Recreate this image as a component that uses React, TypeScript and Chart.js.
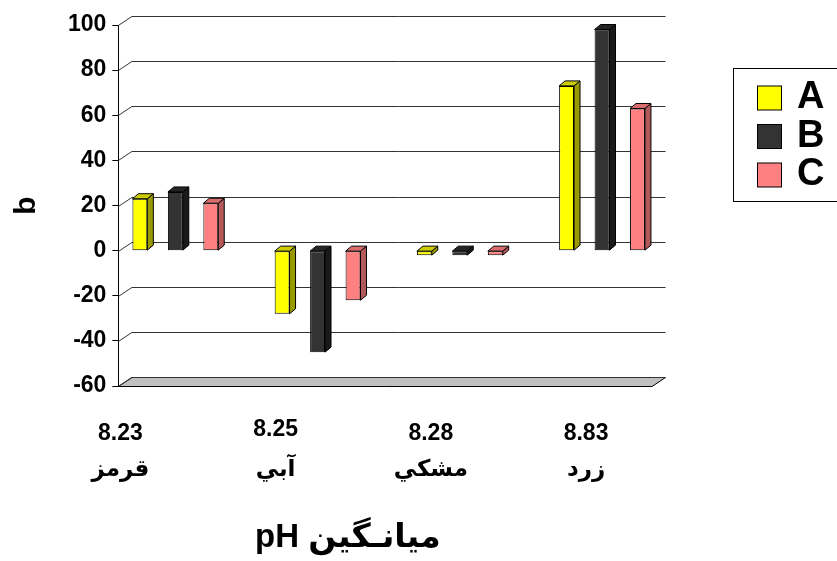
import React, { useEffect, useRef } from "react";
import { Chart, registerables } from "chart.js";

Chart.register(...registerables);

// ---- data ----
const categoryNames = ["قرمز", "آبي", "مشكي", "زرد"];
const phValues = ["8.23", "8.25", "8.28", "8.83"];
const seriesLabels = ["A", "B", "C"];
const valuesA = [23, -28, -2, 73];
const valuesB = [26, -45, -2, 98];
const valuesC = [21, -22, -2, 63];
const yMin = -60;
const yMax = 100;
const yStep = 20;
const yTitle = "b";
const xTitle = "pH ميانـگين";

// ---- styles ----
const FONT = "'Liberation Sans', Arial, 'DejaVu Sans', sans-serif";
const frontColors = ["#FFFF00", "#333333", "#FF8080"];
const sideColors = ["#999900", "#1A1A1A", "#B35959"];
const topColors = ["#CCCC00", "#262626", "#D96C6C"];
const BAR_X_MIN = -0.4005;
const BAR_X_MAX = 3.3513;
const LABEL_X_MIN = -0.0129;
const LABEL_X_MAX = 3.4249;
const WALL_DX = 13.5;
const WALL_DY = 9;
const BAR_DX = 6;
const BAR_DY = 5;

function poly(ctx: CanvasRenderingContext2D, pts: number[][], fill: string) {
  ctx.beginPath();
  ctx.moveTo(pts[0][0], pts[0][1]);
  for (let i = 1; i < pts.length; i++) ctx.lineTo(pts[i][0], pts[i][1]);
  ctx.closePath();
  ctx.fillStyle = fill;
  ctx.fill();
  ctx.strokeStyle = "#000";
  ctx.lineWidth = 1;
  ctx.stroke();
}

const excel3d = {
  id: "excel3d",
  beforeDatasetsDraw(chart: any) {
    const { ctx, chartArea } = chart;
    const y = chart.scales.y;
    ctx.save();
    const yb = Math.round(y.getPixelForValue(y.min)) + 0.5;
    poly(
      ctx,
      [
        [chartArea.left, yb],
        [chartArea.right, yb],
        [chartArea.right + WALL_DX, yb - WALL_DY],
        [chartArea.left + WALL_DX, yb - WALL_DY],
      ],
      "#C0C0C0"
    );
    ctx.strokeStyle = "#333";
    ctx.lineWidth = 1;
    y.ticks.forEach((t: any) => {
      const py = Math.round(y.getPixelForValue(t.value)) + 0.5;
      ctx.beginPath();
      ctx.moveTo(chartArea.left, py);
      ctx.lineTo(chartArea.left + WALL_DX, py - WALL_DY);
      ctx.lineTo(chartArea.right + WALL_DX, py - WALL_DY);
      ctx.stroke();
    });
    ctx.restore();
  },
  afterDatasetsDraw(chart: any) {
    const { ctx } = chart;
    ctx.save();
    chart.data.datasets.forEach((_ds: any, di: number) => {
      const meta = chart.getDatasetMeta(di);
      meta.data.forEach((bar: any) => {
        const p = bar.getProps(["x", "y", "base", "width"], true);
        const l = p.x - p.width / 2;
        const r = p.x + p.width / 2;
        const top = Math.min(p.y, p.base);
        const bot = Math.max(p.y, p.base);
        poly(
          ctx,
          [
            [r, top],
            [r + BAR_DX, top - BAR_DY],
            [r + BAR_DX, bot - BAR_DY],
            [r, bot],
          ],
          sideColors[di]
        );
        poly(
          ctx,
          [
            [l, top],
            [l + BAR_DX, top - BAR_DY],
            [r + BAR_DX, top - BAR_DY],
            [r, top],
          ],
          topColors[di]
        );
      });
    });
    ctx.restore();
  },
  afterDraw(chart: any) {
    const { ctx, chartArea } = chart;
    ctx.save();
    // x axis title
    ctx.font = `bold 33px ${FONT}`;
    ctx.fillStyle = "#000";
    ctx.textAlign = "center";
    ctx.textBaseline = "middle";
    ctx.fillText(xTitle, chartArea.left + 0.43 * (chartArea.right - chartArea.left), 538);
    // legend
    const bx = 733.5;
    const by = 68.5;
    ctx.strokeStyle = "#000";
    ctx.lineWidth = 1;
    ctx.fillStyle = "#fff";
    ctx.fillRect(bx, by, 130, 133);
    ctx.strokeRect(bx, by, 130, 133);
    chart.data.datasets.forEach((ds: any, i: number) => {
      const cy = 98 + i * 38.5;
      ctx.fillStyle = ds.backgroundColor;
      ctx.fillRect(757.5, cy - 12, 24, 24);
      ctx.strokeRect(757.5, cy - 12, 24, 24);
      ctx.fillStyle = "#000";
      ctx.font = `bold 38px ${FONT}`;
      ctx.textAlign = "left";
      ctx.textBaseline = "middle";
      ctx.fillText(ds.label, 797, cy);
    });
    ctx.restore();
  },
};

export default function App() {
  const ref = useRef<HTMLCanvasElement | null>(null);
  useEffect(() => {
    if (!ref.current) return;
    Chart.defaults.font.family = FONT;
    const series = [valuesA, valuesB, valuesC];
    const chart = new Chart(ref.current, {
      type: "bar",
      data: {
        datasets: series.map((vals, i) => ({
          label: seriesLabels[i],
          data: vals.map((v, k) => ({ x: k, y: v })),
          backgroundColor: frontColors[i],
          borderColor: "#000",
          borderWidth: 1,
          borderSkipped: false,
          categoryPercentage: 0.748,
          barPercentage: 0.42,
          xAxisID: "x",
          yAxisID: "y",
        })),
      },
      options: {
        responsive: false,
        animation: false,
        events: [],
        layout: { padding: { left: 9, right: 185, top: 25, bottom: 7 } },
        plugins: { legend: { display: false }, tooltip: { enabled: false } },
        scales: {
          x: {
            type: "linear",
            display: false,
            offset: false,
            min: BAR_X_MIN,
            max: BAR_X_MAX,
            ticks: { stepSize: 1, includeBounds: false },
          },
          x2: {
            type: "linear",
            position: "bottom",
            offset: false,
            min: LABEL_X_MIN,
            max: LABEL_X_MAX,
            grid: { display: false, drawTicks: false },
            border: { display: false },
            ticks: {
              stepSize: 1,
              includeBounds: false,
              autoSkip: false,
              maxRotation: 0,
              padding: 44,
              crossAlign: "center",
              color: "#000",
              font: (ctx: any) => ({
                family: FONT,
                size: 23,
                weight: "bold",
                lineHeight: ctx.index === 1 ? "40px" : "36px",
              }),
              callback: (v: any) => {
                const i = Math.round(Number(v));
                return Math.abs(Number(v) - i) < 1e-6 && i >= 0 && i < phValues.length
                  ? [phValues[i], categoryNames[i]]
                  : "";
              },
            },
          },
          y: {
            min: yMin,
            max: yMax,
            grid: { display: true, drawOnChartArea: false, drawTicks: true, tickLength: 6, color: "#000" },
            border: { display: true, color: "#000", width: 1 },
            ticks: {
              stepSize: yStep,
              padding: 6,
              color: "#000",
              font: { family: FONT, size: 23, weight: "bold" },
            },
            title: {
              display: true,
              text: yTitle,
              color: "#000",
              font: { family: FONT, size: 30, weight: "bold" },
              padding: { top: 0, bottom: 17 },
            },
          },
        },
      },
      plugins: [excel3d],
    } as any);
    return () => chart.destroy();
  }, []);
  return (
    <div style={{ position: "fixed", left: 0, top: 0, width: 837, height: 561, background: "#fff" }}>
      <canvas ref={ref} width={837} height={561} />
    </div>
  );
}
